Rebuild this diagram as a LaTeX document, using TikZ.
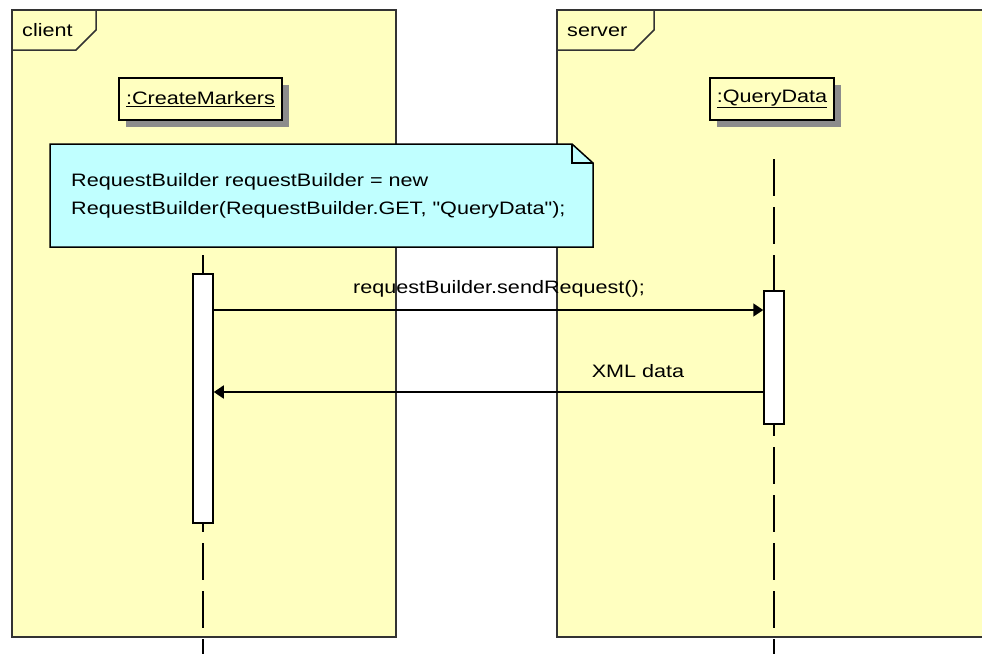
\documentclass[tikz,border=0pt]{standalone}
\usepackage{fontspec}
\newfontfamily\umlfont{Liberation Sans}[FakeStretch=1.2]
\usetikzlibrary{arrows.meta,shadows}
\definecolor{frameyellow}{HTML}{FFFFC0}
\definecolor{notecyan}{HTML}{C0FFFF}
\definecolor{edgegray}{HTML}{333333}
\tikzset{
  objbox/.style={draw=black, line width=1.5pt, fill=frameyellow, minimum height=42pt, inner sep=0pt,
    general shadow={fill=gray!90, shadow xshift=7pt, shadow yshift=-7pt}},
  actbar/.style={draw=black, line width=1.5pt, fill=white, minimum width=20pt, inner sep=0pt},
  lifeline/.style={line width=1.2pt, dash pattern=on 37pt off 11pt, dash phase=37pt},
  msg/.style={line width=1.5pt, -{Triangle[length=10pt,width=13pt]}},
}
\begin{document}
\begin{tikzpicture}[x=1pt, y=-1pt, font=\umlfont\fontsize{18}{28}\selectfont]
\clip (0,0) rectangle (982,654);
\fill[white] (0,0) rectangle (982,654);
% frames
\foreach \xa/\xb/\xt/\lbl in {12/396/96/client, 557/1000/654/server} {
  \draw[edgegray, line width=2pt, fill=frameyellow] (\xa,10) rectangle (\xb,637);
  \draw[edgegray, line width=1.5pt] (\xa,50) -- (\xt-20,50) -- (\xt,30) -- (\xt,10);
  \node[anchor=base west, inner sep=0pt] (\lbl) at (\xa+10,36.7) {\lbl};
}
% objects and lifelines
\node[objbox, minimum width=163pt] (cm) at (200.5,99) {\underline{:CreateMarkers}};
\node[objbox, minimum width=124pt] (qd) at (772,99) {\underline{:QueryData}};
\coordinate (llstart) at (0,148);
\coordinate (cmend) at (203,654); \coordinate (qdend) at (774,654);
\draw[lifeline] (cmend |- llstart) -- (cmend);
\draw[lifeline] (qdend |- llstart) -- (qdend);
% note
\draw[fill=notecyan, line width=1.5pt] (50,144) -- (572,144) -- (593,163) -- (593,247) -- (50,247) -- cycle;
\draw[line width=1.5pt] (572,144) -- (572,163) -- (593,163);
\node[align=left, anchor=west, inner sep=0pt] (note) at (71,196) {RequestBuilder requestBuilder = new\\RequestBuilder(RequestBuilder.GET, "QueryData");};
% activations
\node[actbar, minimum height=249pt] (cmact) at (203,398.5) {};
\node[actbar, minimum height=133pt] (qdact) at (774,357.5) {};
% messages
\coordinate (req) at (0,310); \coordinate (resp) at (0,392);
\draw[msg] (cmact.east |- req) -- (qdact.west |- req);
\node[anchor=base, inner sep=0pt] (reqlbl) at (499,293) {requestBuilder.sendRequest();};
\draw[msg] (qdact.west |- resp) -- (cmact.east |- resp);
\node[anchor=base, inner sep=0pt] (resplbl) at (638,377) {XML data};
\end{tikzpicture}
\end{document}
